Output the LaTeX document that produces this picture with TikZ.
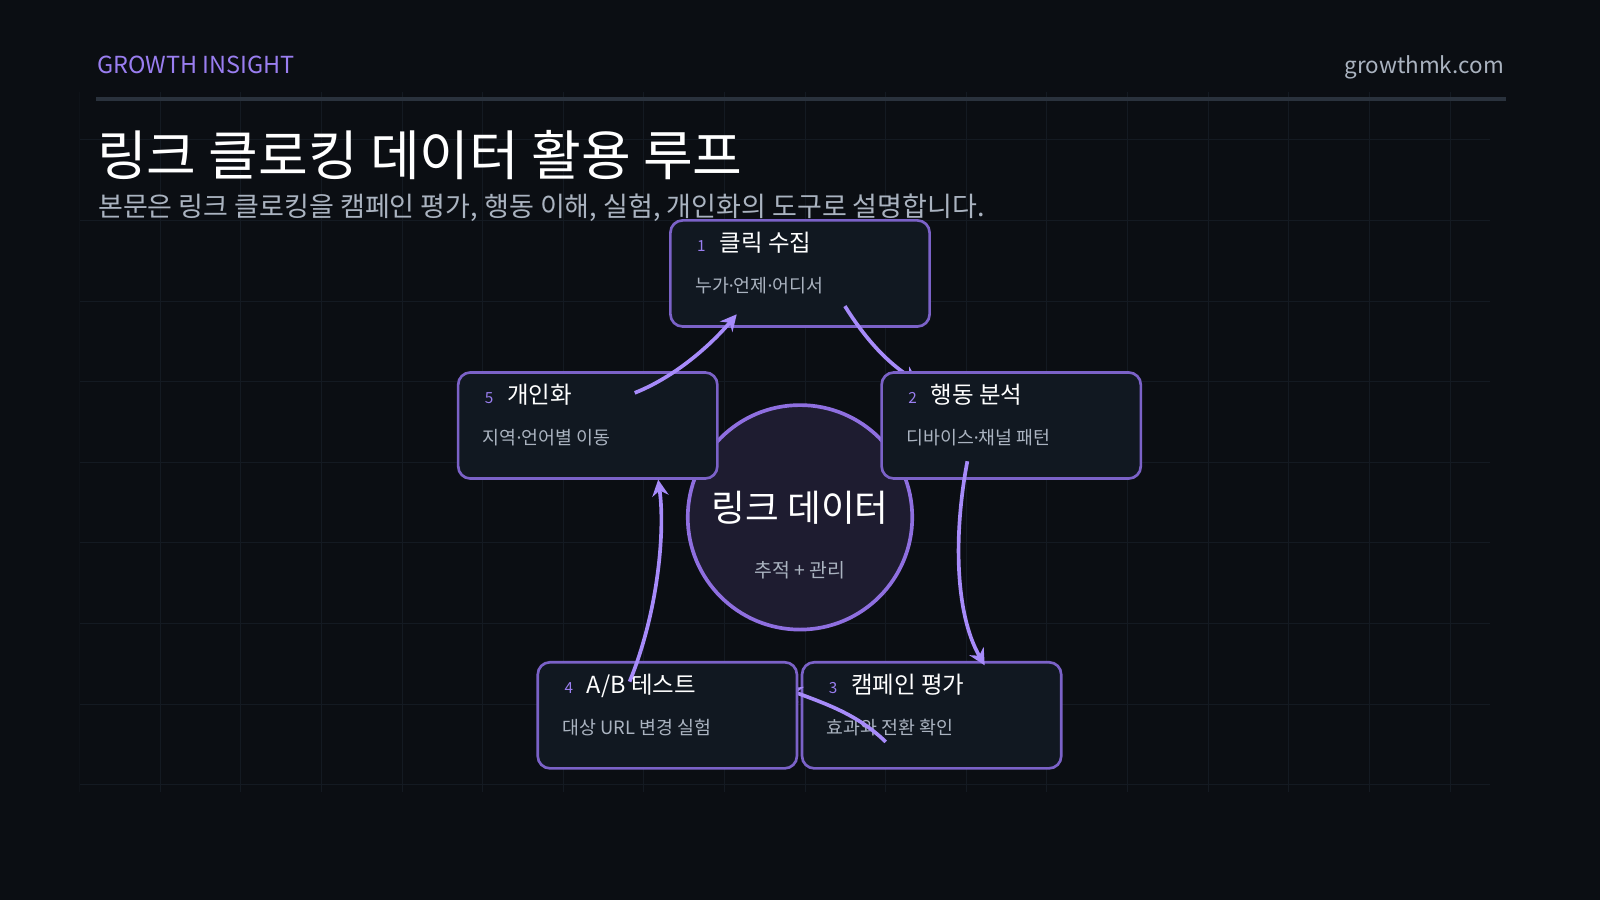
\documentclass[tikz,border=0pt]{standalone}
\usepackage{fontspec}
\setmainfont{Noto Sans CJK KR}
\newfontfamily\latinf{Noto Sans}
\newcommand{\md}{{\latinf ·}}
\usetikzlibrary{arrows.meta, positioning}
\definecolor{bgc}{HTML}{0B0E13}
\definecolor{gridc}{HTML}{141A22}
\definecolor{rulec}{HTML}{2A323D}
\definecolor{accent}{HTML}{9A7EF0}
\definecolor{boxfill}{HTML}{111821}
\definecolor{boxline}{HTML}{7B62C8}
\definecolor{hubfill}{HTML}{1E1C30}
\definecolor{hubline}{HTML}{8F6FE0}
\definecolor{arrowc}{HTML}{A78BFA}
\definecolor{subc}{HTML}{AAB3C0}
\tikzset{
  stepnode/.style={draw=boxline, line width=2.6pt, fill=boxfill, rounded corners=12pt,
    minimum width=254pt, minimum height=104pt, inner sep=0pt},
  flow/.style={draw=arrowc, line width=3.6pt, -{Stealth[length=16pt,width=16pt]}},
}
\newcommand{\stepbox}[5]{%
  \node[stepnode] (#1) at (#2) {};
  \node[anchor=base west, text=accent, font=\fontsize{15}{18}\selectfont] at ([xshift=24pt,yshift=-32pt]#1.north west) {#3};
  \node[anchor=base west, text=white, font=\fontsize{23}{28}\selectfont] at ([xshift=46pt,yshift=-32pt]#1.north west) {#4};
  \node[anchor=base west, text=subc, font=\fontsize{18}{22}\selectfont] at ([xshift=22pt,yshift=-72pt]#1.north west) {#5};
}
\begin{document}
\begin{tikzpicture}[x=1pt, y=-1pt]
% Background
\fill[bgc] (0,0) rectangle (1568,882);
\useasboundingbox (0,0) rectangle (1568,882);

% Grid
\begin{scope}
\clip (78,90) rectangle (1460,776);
\foreach \x in {78,157,...,1500} \draw[gridc, line width=1pt] (\x,90) -- (\x,776);
\foreach \y in {137,216,...,770} \draw[gridc, line width=1pt] (78,\y) -- (1460,\y);
\end{scope}

% Header
\node[anchor=base west, text=accent, font=\fontsize{23}{27}\selectfont, inner sep=0pt] (brand) at (95,72) {GROWTH INSIGHT};
\node[anchor=base east, text=subc, font=\fontsize{22}{26}\selectfont, inner sep=0pt] (site) at (1474,72) {growthmk.com};
\draw[rulec, line width=3pt] (94,97) -- (1476,97);
\node[anchor=base west, text=white, font=\fontsize{53}{60}\selectfont, inner sep=0pt] (title) at (95,172) {링크 클로킹 데이터 활용 루프};
\node[anchor=base west, text=subc, font=\fontsize{26.5}{30}\selectfont, inner sep=0pt] (subtitle) at (96,212) {본문은 링크 클로킹을 캠페인 평가, 행동 이해, 실험, 개인화의 도구로 설명합니다.};

% Hub
\node[circle, draw=hubline, line width=3.6pt, fill=hubfill, minimum size=220pt, inner sep=0pt] (hub) at (784,507) {};
\node[text=white, font=\fontsize{36}{42}\selectfont] (hubtitle) at (784,498) {링크 데이터};
\node[text=subc, font=\fontsize{19}{22}\selectfont] (hubsub) at (784,559) {추적 + 관리};

% Steps and arrows
\stepbox{s3}{913,701}{3}{캠페인 평가}{효과와 전환 확인}
\coordinate (a34) at (868,727);
\draw[flow] (a34) .. controls (840,700) and (810,690) .. (770,675);
\stepbox{s4}{654,701}{4}{A/B 테스트}{대상 URL 변경 실험}
\stepbox{s5}{576,417}{5}{개인화}{지역\md 언어별 이동}
\coordinate (a45) at (617,668);
\coordinate (h45) at (645,470);
\draw[flow] (a45) .. controls (645,600) and (652,520) .. (h45);
\stepbox{s1}{784,268}{1}{클릭 수집}{누가\md 언제\md 어디서}
\coordinate (a51) at (622,385);
\coordinate (h51) at (722,308);
\draw[flow] (a51) .. controls (660,370) and (695,340) .. (h51);
\coordinate (a12) at (828,300);
\draw[flow] (a12) .. controls (850,335) and (870,355) .. (900,375);
\stepbox{s2}{991,417}{2}{행동 분석}{디바이스\md 채널 패턴}
\coordinate (a23) at (948,452);
\coordinate (h23) at (965,652);
\draw[flow] (a23) .. controls (935,520) and (935,600) .. (h23);
\end{tikzpicture}
\end{document}
